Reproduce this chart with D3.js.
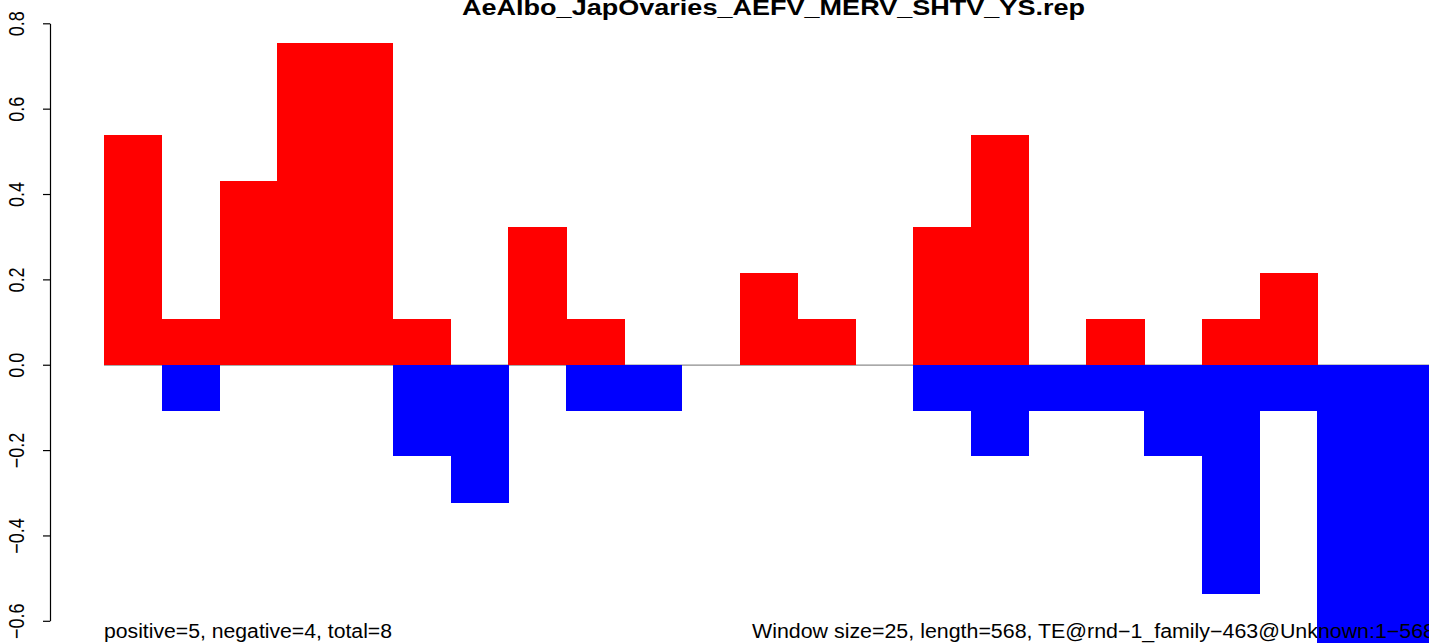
<!DOCTYPE html>
<html>
<head>
<meta charset="utf-8">
<script src="https://cdn.jsdelivr.net/npm/d3@7/dist/d3.min.js"></script>
<style>
  html, body { margin: 0; padding: 0; background: #fff; overflow: hidden; }
  svg { display: block; }
  text { font-family: "Liberation Sans", Arial, Helvetica, sans-serif; fill: #000; }
</style>
</head>
<body>
<script>
// ---- data ----
const title = "AeAlbo_JapOvaries_AEFV_MERV_SHTV_YS.rep";
const windowIndex = [1,2,3,4,5,6,7,8,9,10,11,12,13,14,15,16,17,18,19,20,21,22,23];
const positiveValues = [0.538,0.108,0.431,0.754,0.754,0.108,0,0.323,0.108,0,0,0.215,0.108,0,0.323,0.538,0,0.108,0,0.108,0.215,0,0];
const negativeValues = [0,-0.108,0,0,0,-0.215,-0.323,0,-0.108,-0.108,0,0,0,0,-0.108,-0.215,-0.108,-0.108,-0.215,-0.538,-0.108,-0.754,-0.754];
const yTicks = [-0.6,-0.4,-0.2,0.0,0.2,0.4,0.6,0.8];
const leftNote = "positive=5, negative=4, total=8";
const rightNote = "Window size=25, length=568, TE@rnd\u22121_family\u2212463@Unknown:1\u2212568";

// ---- layout ----
const W = 1429, H = 643;
const svg = d3.select("body").append("svg").attr("width", W).attr("height", H);

const barW = 57.78;
const x = d3.scaleLinear().domain([0, windowIndex.length]).range([104, 104 + windowIndex.length * barW]);
const y = d3.scaleLinear().domain([-0.6, 0.8]).range([620.8, 23.3]);

// zero line
svg.append("line")
  .attr("x1", x(0)).attr("x2", W)
  .attr("y1", y(0) + 0.3).attr("y2", y(0) + 0.3)
  .attr("stroke", "#8c8c8c").attr("stroke-width", 1.2);

// bars
svg.append("g").attr("shape-rendering", "crispEdges").selectAll("rect.pos")
  .data(positiveValues.map((v, i) => ({v, i})).filter(d => d.v > 0))
  .join("rect")
  .attr("x", d => x(d.i)).attr("width", barW + 0.5)
  .attr("y", d => y(d.v)).attr("height", d => y(0) - y(d.v))
  .attr("fill", "#ff0000");

svg.append("g").attr("shape-rendering", "crispEdges").selectAll("rect.neg")
  .data(negativeValues.map((v, i) => ({v, i})).filter(d => d.v < 0))
  .join("rect")
  .attr("x", d => x(d.i)).attr("width", barW + 0.5)
  .attr("y", y(0)).attr("height", d => y(d.v) - y(0))
  .attr("fill", "#0000ff");

// y axis (R style)
const axis = d3.axisLeft(y).tickValues(yTicks).tickSize(7).tickSizeOuter(0).tickFormat(d3.format(".1f"));
const gAxis = svg.append("g").attr("transform", "translate(50,0)").call(axis);
gAxis.select(".domain").attr("stroke", "#000").attr("stroke-width", 1.2);
gAxis.selectAll(".tick line").attr("stroke", "#000").attr("stroke-width", 1.2);
gAxis.selectAll(".tick text").remove();
gAxis.selectAll(".tick").append("text")
  .attr("transform", "translate(-26,0) scale(1.25,1) rotate(-90)")
  .attr("text-anchor", "middle")
  .attr("x", 0).attr("y", 0)
  .style("font-size", "18px")
  .text(d => d3.format(".1f")(d).replace("-", "\u2212"));

// title
svg.append("text")
  .attr("x", 462).attr("y", 15)
  .attr("textLength", 623).attr("lengthAdjust", "spacingAndGlyphs")
  .style("font-size", "22px").style("font-weight", "bold")
  .text(title);

// notes
svg.append("text")
  .attr("x", 104).attr("y", 638)
  .attr("textLength", 288).attr("lengthAdjust", "spacingAndGlyphs")
  .style("font-size", "19.5px")
  .text(leftNote);

svg.append("text")
  .attr("x", 752).attr("y", 638)
  .attr("textLength", 683).attr("lengthAdjust", "spacingAndGlyphs")
  .style("font-size", "19.5px")
  .text(rightNote);
</script>
</body>
</html>
